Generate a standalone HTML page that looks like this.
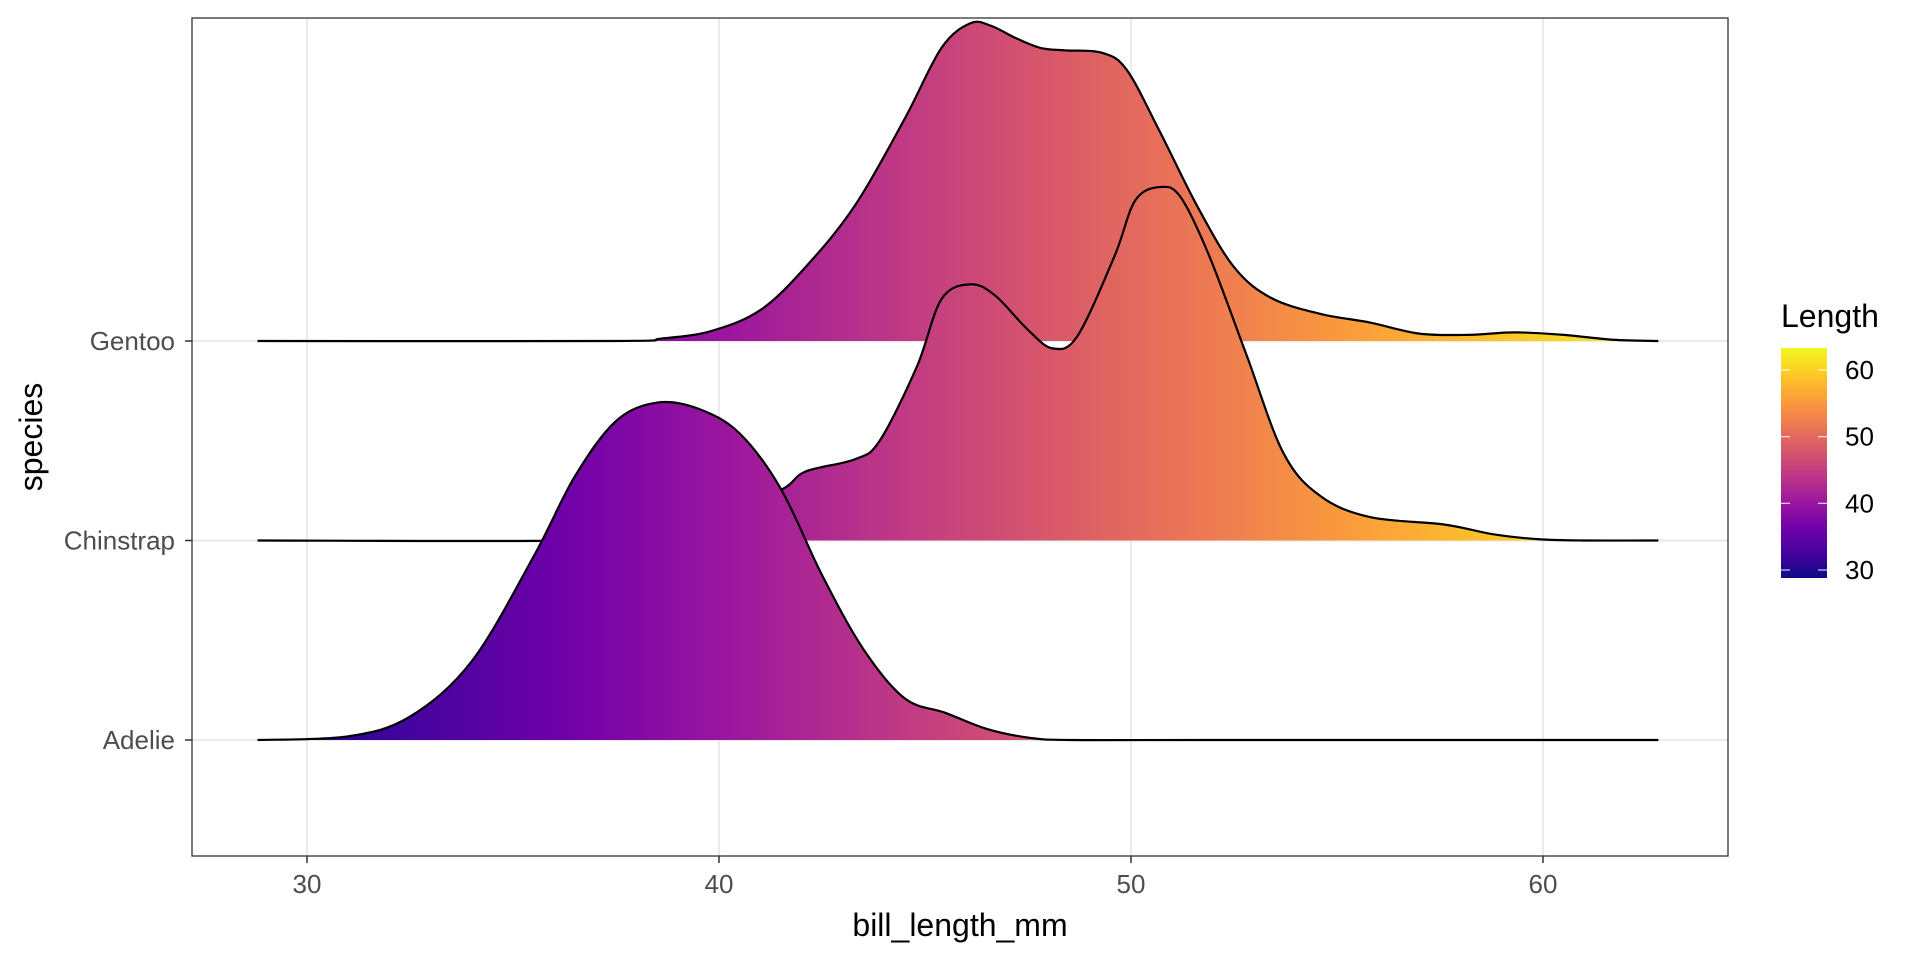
<!DOCTYPE html>
<html><head><meta charset="utf-8"><style>
html,body{margin:0;padding:0;background:#fff;}
svg{display:block;font-family:"Liberation Sans",Arial,sans-serif;}
</style></head><body>
<svg id="chart" width="1920" height="960" viewBox="0 0 1920 960">
<defs>
<linearGradient id="plasma" gradientUnits="userSpaceOnUse" x1="0" y1="0" x2="1" y2="0"></linearGradient>
<linearGradient id="plasmaV" x1="0" y1="1" x2="0" y2="0"></linearGradient>
</defs>
<rect x="0" y="0" width="1920" height="960" fill="#fff"/>
<g id="grid"></g>
<g id="ridges"></g>
<rect x="192" y="18" width="1536" height="838" fill="none" stroke="#333" stroke-width="1.3"/>
<g id="axes"></g>
<text x="960" y="936" text-anchor="middle" font-size="32" fill="#000">bill_length_mm</text>
<text transform="translate(42,437) rotate(-90)" text-anchor="middle" font-size="32" fill="#000">species</text>
<g id="legend"></g>
</svg>
<script>
const categories = ["Adelie","Chinstrap","Gentoo"];
const xTicks = [30,40,50,60];
const legendTicks = [30,40,50,60];
const colorDomain = [28.8, 63.3];
const gentooX = [28.8,37.4,38.6,39.8,41.0,42.1,43.3,44.5,45.4,46.1,46.6,47.2,47.8,48.4,49.3,49.9,50.7,51.6,52.5,53.4,54.6,55.8,57.0,58.2,59.3,60.5,61.7,62.8];
const gentooY = [0,0,2,8,25,60,110,180,238,258,256,246,238,236,234,220,170,110,60,35,22,15,6,5,7,5,1,0];
const chinX = [28.8,36.5,38.0,40.0,41.5,42.1,43.3,43.9,44.8,45.4,46.1,46.7,47.5,48.1,48.7,49.6,50.1,50.7,51.2,51.9,52.8,53.7,54.6,55.8,57.6,58.8,59.9,61.0,62.8];
const chinY = [0,0,6,22,41,56,66,81,141,196,208,199,171,156,166,231,276,287,279,231,151,71,36,19,13,5,1,0,0];
const adelieX = [28.8,31,32.5,34,35.5,36.5,37.5,38.5,39.5,40.5,41.5,42.5,43.5,44.5,45.5,46.5,47.5,48.5,52,62.8];
const adelieY = [0,3,19,64,149,214,259,274,269,249,204,134,74,34,22,9,2,0,0,0];
const series = {Gentoo:[gentooX,gentooY], Chinstrap:[chinX,chinY], Adelie:[adelieX,adelieY]};
const plasma = ["#0d0887","#46039f","#7201a8","#9c179e","#bd3786","#d8576b","#ed7953","#fb9f3a","#fdca26","#f0f921"];

const NS="http://www.w3.org/2000/svg";
const X0=192,X1=1728,Y0=18,Y1=856;
function xs(v){return 307+(v-30)*41.2;}
function ys(cat){return 740-categories.indexOf(cat)*199.5;}
const hScale = 199.5/162;
function mk(tag,attrs,parent){const e=document.createElementNS(NS,tag);for(const k in attrs)e.setAttribute(k,attrs[k]);parent.appendChild(e);return e;}

const g1=document.getElementById('plasma');
g1.setAttribute('x1',xs(colorDomain[0]));g1.setAttribute('x2',xs(colorDomain[1]));
const g2=document.getElementById('plasmaV');
plasma.forEach((c,i)=>{mk('stop',{offset:i/(plasma.length-1),'stop-color':c},g1);mk('stop',{offset:i/(plasma.length-1),'stop-color':c},g2);});

const grid=document.getElementById('grid');
xTicks.forEach(t=>{const l=mk('line',{x1:xs(t),x2:xs(t),y1:Y0,y2:Y1,stroke:'#ebebeb','stroke-width':2.2},grid);

});
categories.forEach(c=>{const l=mk('line',{x1:X0,x2:X1,y1:ys(c),y2:ys(c),stroke:'#ebebeb','stroke-width':2.2},grid);

});

function curve(pts){
  let d='M'+pts[0][0]+','+pts[0][1];
  for(let i=0;i<pts.length-1;i++){
    const p0=pts[Math.max(0,i-1)],p1=pts[i],p2=pts[i+1],p3=pts[Math.min(pts.length-1,i+2)];
    const c1x=p1[0]+(p2[0]-p0[0])/6,c1y=p1[1]+(p2[1]-p0[1])/6;
    const c2x=p2[0]-(p3[0]-p1[0])/6,c2y=p2[1]-(p3[1]-p1[1])/6;
    d+=' C'+c1x+','+c1y+' '+c2x+','+c2y+' '+p2[0]+','+p2[1];
  }
  return d;
}
const ridges=document.getElementById('ridges');
["Gentoo","Chinstrap","Adelie"].forEach(c=>{
  const [xv,yv]=series[c];const b=ys(c);
  const pts=xv.map((v,i)=>[xs(v),b-yv[i]*hScale]);
  const d=curve(pts);
  const f=mk('path',{d:d+' L'+pts[pts.length-1][0]+','+b+' L'+pts[0][0]+','+b+' Z',fill:'url(#plasma)',stroke:'none'},ridges);
  
  
  const l=mk('path',{d:d,fill:'none',stroke:'#000','stroke-width':2.2},ridges);
  
  
});

const axes=document.getElementById('axes');
xTicks.forEach(t=>{
  const l=mk('line',{x1:xs(t),x2:xs(t),y1:Y1,y2:Y1+7,stroke:'#333','stroke-width':1.5},axes);
  
  
  const tx=mk('text',{x:xs(t),y:Y1+37,'text-anchor':'middle','font-size':26,fill:'#4d4d4d'},axes);tx.textContent=t;
  
  
});
categories.forEach(c=>{
  const l=mk('line',{x1:X0-7,x2:X0,y1:ys(c),y2:ys(c),stroke:'#333','stroke-width':1.5},axes);
  
  
  const tx=mk('text',{x:X0-17,y:ys(c)+9,'text-anchor':'end','font-size':26,fill:'#4d4d4d'},axes);tx.textContent=c;
  
  
});

const lg=document.getElementById('legend');
const LB=[1781,348,46,230];
function ly(v){return 578-(v-colorDomain[0])/(colorDomain[1]-colorDomain[0])*230;}
const tt=mk('text',{x:1781,y:327,'font-size':32,fill:'#000'},lg);tt.textContent='Length';


const bar=mk('rect',{x:LB[0],y:LB[1],width:LB[2],height:LB[3],fill:'url(#plasmaV)'},lg);


legendTicks.forEach(t=>{
  const y=ly(t);
  mk('line',{x1:LB[0],x2:LB[0]+9,y1:y,y2:y,stroke:'#fff','stroke-width':1.2,opacity:0.8},lg);
  mk('line',{x1:LB[0]+LB[2]-9,x2:LB[0]+LB[2],y1:y,y2:y,stroke:'#fff','stroke-width':1.2,opacity:0.8},lg);
  const tx=mk('text',{x:1845,y:y+9,'font-size':26,fill:'#000'},lg);tx.textContent=t;
  
  
});
</script>
</body></html>
